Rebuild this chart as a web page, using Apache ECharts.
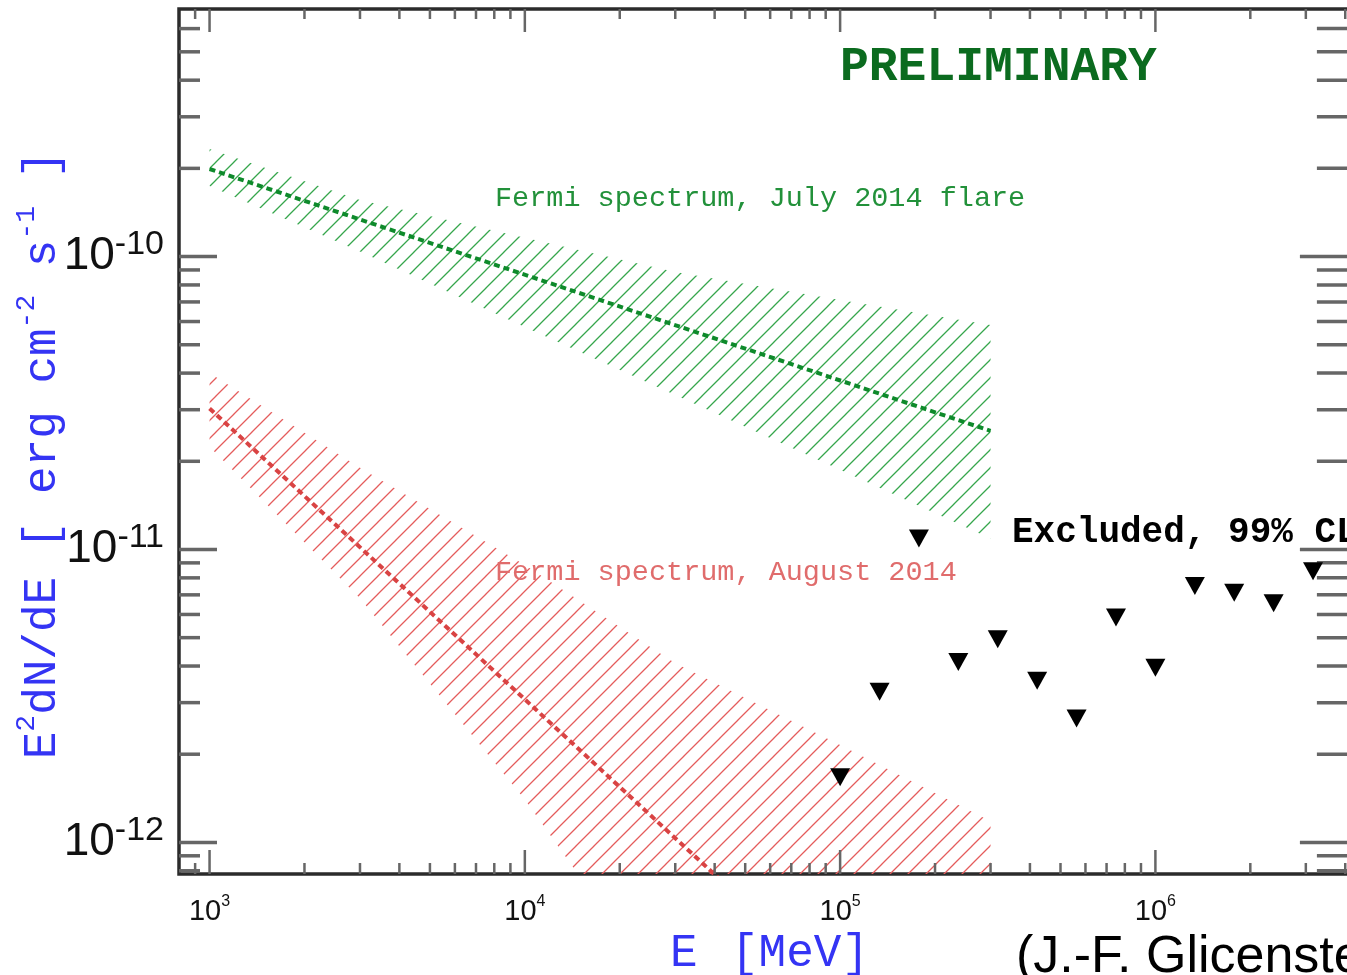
<!DOCTYPE html>
<html>
<head>
<meta charset="utf-8">
<script src="https://cdn.jsdelivr.net/npm/echarts@6/dist/echarts.min.js"></script>
<style>
  html, body { margin: 0; padding: 0; background: #ffffff; }
  #chart { width: 1347px; height: 975px; }
</style>
</head>
<body>
<div id="chart"></div>
<script>
// Axis ranges: energy in MeV, E^2 dN/dE in erg cm^-2 s^-1
const energyRange = [800, 4.2e6];
const fluxRange = [7.8e-13, 7e-10];

// Fermi-LAT butterfly, July 2014 flare
const julyEnergy = [1e3, 3e3, 1e4, 3e4, 1e5, 3e5];
const julyUpper  = [2.33e-10, 1.56e-10, 1.16e-10, 8.86e-11, 7.11e-11, 5.84e-11];
const julyLower  = [1.74e-10, 1.04e-10, 5.75e-11, 3.37e-11, 1.87e-11, 1.09e-11];
const julyFitEnergy = [1e3, 3e5];
const julyFit       = [1.99e-10, 2.54e-11];

// Fermi-LAT butterfly, August 2014
const augEnergy = [1e3, 3e3, 1e4, 3e4, 1e5, 3e5];
const augUpper  = [4.00e-11, 1.90e-11, 8.85e-12, 4.09e-12, 2.15e-12, 1.18e-12];
const augLower  = [2.24e-11, 6.82e-12, 1.40e-12, 2.67e-13, 4.05e-14, 6.60e-15];
const augFitEnergy = [1e3, 3e5];
const augFit       = [3.03e-11, 1.05e-13];

// 99% CL upper limits
const ulEnergy = [1.000e5, 1.334e5, 1.778e5, 2.371e5, 3.162e5, 4.217e5, 5.623e5,
                  7.499e5, 1.000e6, 1.334e6, 1.778e6, 2.371e6, 3.162e6];
const ulFlux   = [1.67e-12, 3.27e-12, 1.09e-11, 4.13e-12, 4.94e-12, 3.56e-12, 2.65e-12,
                  5.86e-12, 3.95e-12, 7.50e-12, 7.11e-12, 6.55e-12, 8.43e-12];

// Tick positions
const xMajorTicks = [1e3, 1e4, 1e5, 1e6];
const xMinorTicks = [900,
  2e3, 3e3, 4e3, 5e3, 6e3, 7e3, 8e3, 9e3,
  2e4, 3e4, 4e4, 5e4, 6e4, 7e4, 8e4, 9e4,
  2e5, 3e5, 4e5, 5e5, 6e5, 7e5, 8e5, 9e5,
  2e6, 3e6, 4e6];
const yMajorTicks = [1e-12, 1e-11, 1e-10];
const yMinorTicks = [8e-13, 9e-13,
  2e-12, 3e-12, 4e-12, 5e-12, 6e-12, 7e-12, 8e-12, 9e-12,
  2e-11, 3e-11, 4e-11, 5e-11, 6e-11, 7e-11, 8e-11, 9e-11,
  2e-10, 3e-10, 4e-10, 5e-10, 6e-10];

const MONO = '"Liberation Mono", "DejaVu Sans Mono", monospace';
const SANS = '"Liberation Sans", Arial, sans-serif';
const BLUE = '#3434f4';

// Diagonal line hatching used to fill the butterflies
function hatch(color, width) {
  const S = 18;
  const c = document.createElement('canvas');
  c.width = S; c.height = S;
  const g = c.getContext('2d');
  g.strokeStyle = color;
  g.lineWidth = width;
  g.beginPath();
  g.moveTo(-2, S + 2); g.lineTo(S + 2, -2);
  g.moveTo(-3, 3); g.lineTo(3, -3);
  g.moveTo(S - 3, S + 3); g.lineTo(S + 3, S - 3);
  g.stroke();
  return { image: c, repeat: 'repeat' };
}

function powerLabel(v) {
  const e = Math.log10(v);
  const r = Math.round(e);
  if (Math.abs(e - r) > 1e-6) return '';
  return '{n|10}{s|' + r + '}';
}

function bandSeries(energy, lower, upper, fill) {
  return {
    type: 'custom',
    clip: true,
    silent: true,
    z: 2,
    data: [[energy[0], upper[0]]],
    renderItem: function (params, api) {
      const pts = [];
      for (let i = 0; i < energy.length; i++) pts.push(api.coord([energy[i], upper[i]]));
      for (let i = energy.length - 1; i >= 0; i--) pts.push(api.coord([energy[i], lower[i]]));
      return { type: 'polygon', shape: { points: pts }, style: { fill: fill, stroke: null } };
    }
  };
}

function tickSeries(values, isX, major) {
  return {
    type: 'custom',
    clip: false,
    silent: true,
    z: 5,
    data: values.map(v => isX ? [v, fluxRange[0]] : [energyRange[0], v]),
    renderItem: function (params, api) {
      const cs = params.coordSys;
      const p = api.coord([api.value(0), api.value(1)]);
      const style = { stroke: '#666666', lineWidth: isX ? 2.5 : 3.5 };
      let a, b;
      if (isX) {
        const lb = major ? 24 : 11, lt = major ? 23 : 10;
        a = { x1: p[0], y1: cs.y + cs.height, x2: p[0], y2: cs.y + cs.height - lb };
        b = { x1: p[0], y1: cs.y, x2: p[0], y2: cs.y + lt };
      } else {
        const ll = major ? 38 : 21, lr = major ? 52 : 35;
        a = { x1: cs.x, y1: p[1], x2: cs.x + ll, y2: p[1] };
        b = { x1: cs.x + cs.width, y1: p[1], x2: cs.x + cs.width - lr, y2: p[1] };
      }
      return { type: 'group', children: [
        { type: 'line', shape: a, style: style },
        { type: 'line', shape: b, style: style }
      ] };
    }
  };
}

const chart = echarts.init(document.getElementById('chart'), null, { renderer: 'canvas' });

chart.setOption({
  animation: false,
  backgroundColor: '#ffffff',
  grid: {
    left: 179, top: 9, width: 1172.9, height: 865,
    show: true, borderColor: '#2b2b2b', borderWidth: 3.5,
    backgroundColor: 'transparent',
    containLabel: false, outerBoundsMode: 'none'
  },
  xAxis: {
    type: 'log', logBase: 10,
    min: energyRange[0], max: energyRange[1],
    axisLine: { show: false }, axisTick: { show: false },
    splitLine: { show: false }, minorTick: { show: false },
    axisLabel: {
      margin: 20, showMinLabel: false, showMaxLabel: false,
      formatter: powerLabel,
      rich: {
        n: { fontFamily: SANS, fontSize: 29, lineHeight: 36, color: '#111' },
        s: { fontFamily: SANS, fontSize: 16, lineHeight: 12, verticalAlign: 'top', color: '#111' }
      }
    }
  },
  yAxis: {
    type: 'log', logBase: 10,
    min: fluxRange[0], max: fluxRange[1],
    axisLine: { show: false }, axisTick: { show: false },
    splitLine: { show: false }, minorTick: { show: false },
    axisLabel: {
      margin: 15, showMinLabel: false, showMaxLabel: false,
      formatter: powerLabel,
      rich: {
        n: { fontFamily: SANS, fontSize: 46, lineHeight: 58, color: '#111' },
        s: { fontFamily: SANS, fontSize: 34, lineHeight: 30, verticalAlign: 'top', color: '#111' }
      }
    }
  },
  series: [
    bandSeries(julyEnergy, julyLower, julyUpper, hatch('#36a64c', 1.3)),
    bandSeries(augEnergy, augLower, augUpper, hatch('#e45c5c', 1.3)),
    {
      type: 'line', name: 'July 2014 fit',
      data: julyFitEnergy.map((e, i) => [e, julyFit[i]]),
      symbol: 'none', z: 4, clip: true,
      lineStyle: { color: '#0e8a2b', width: 4, type: [6, 4] }
    },
    {
      type: 'line', name: 'August 2014 fit',
      data: augFitEnergy.map((e, i) => [e, augFit[i]]),
      symbol: 'none', z: 4, clip: true,
      lineStyle: { color: '#d94343', width: 4, type: [6, 4] }
    },
    {
      type: 'scatter', name: 'Excluded, 99% CL',
      data: ulEnergy.map((e, i) => [e, ulFlux[i]]),
      symbol: 'triangle', symbolRotate: 180, symbolSize: [20, 18],
      itemStyle: { color: '#000000', opacity: 1 }, z: 6
    },
    tickSeries(xMajorTicks, true, true),
    tickSeries(xMinorTicks, true, false),
    tickSeries(yMajorTicks, false, true),
    tickSeries(yMinorTicks, false, false)
  ],
  graphic: [
    { type: 'text', x: 840, y: 68, z: 10,
      style: { text: 'PRELIMINARY', font: 'bold 48px ' + MONO, fill: '#0b6b1f', align: 'left', verticalAlign: 'middle' } },
    { type: 'text', x: 495, y: 198, z: 10,
      style: { text: 'Fermi spectrum, July 2014 flare', font: '28.5px ' + MONO, fill: '#22913a', align: 'left', verticalAlign: 'middle' } },
    { type: 'text', x: 495, y: 572, z: 10,
      style: { text: 'Fermi spectrum, August 2014', font: '28.5px ' + MONO, fill: '#e06c6c', align: 'left', verticalAlign: 'middle' } },
    { type: 'text', x: 1012, y: 533, z: 10,
      style: { text: 'Excluded, 99% CL', font: 'bold 36px ' + MONO, fill: '#000000', align: 'left', verticalAlign: 'middle' } },
    { type: 'text', x: 670, y: 954, z: 10,
      style: { text: 'E', font: '46px ' + MONO, fill: BLUE, align: 'left', verticalAlign: 'middle' } },
    { type: 'text', x: 731, y: 954, z: 10,
      style: { text: '[MeV]', font: '46px ' + MONO, fill: BLUE, align: 'left', verticalAlign: 'middle' } },
    { type: 'text', x: 1016, y: 958, z: 10,
      style: { text: '(J.-F. Glicenstein)', font: '52px ' + SANS, fill: '#000000', align: 'left', verticalAlign: 'middle' } },
    { type: 'text', x: 43, y: 455, rotation: Math.PI / 2, z: 10,
      style: {
        text: '{n|E}{s|2}{n|dN/dE [ erg cm}{s|-2}{n| s}{s|-1}{n| ]}',
        align: 'center', verticalAlign: 'middle',
        rich: {
          n: { fontFamily: MONO, fontSize: 46, lineHeight: 60, fill: BLUE },
          s: { fontFamily: MONO, fontSize: 28, lineHeight: 30, verticalAlign: 'top', fill: BLUE }
        }
      } }
  ]
});
</script>
</body>
</html>
